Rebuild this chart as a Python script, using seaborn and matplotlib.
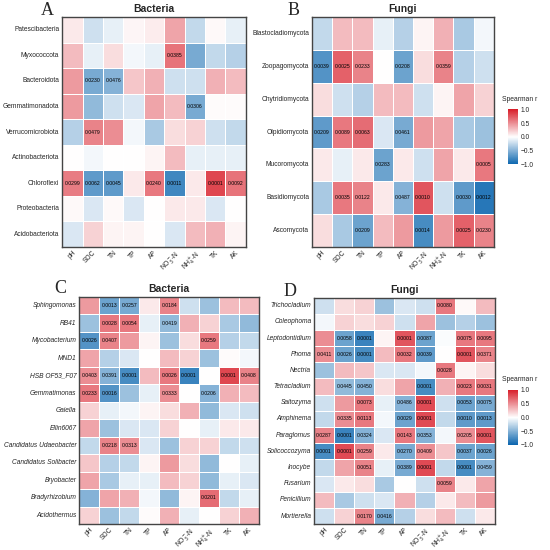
import numpy as np
import pandas as pd
import matplotlib
matplotlib.use('Agg')
import matplotlib.pyplot as plt
import seaborn as sns
from matplotlib.colors import LinearSegmentedColormap

sns.set_theme(style='white')
plt.rcParams['font.family'] = ['Liberation Sans', 'DejaVu Sans']

# 环境因子
factors = ['pH', 'SOC', 'TN', 'TP', 'AP', r'NO$_3^{-}$-N', r'NH$_4^{+}$-N', 'TK', 'AK']

# A 细菌门
rows_a = ['Patescibacteria', 'Myxococcota', 'Bacteroidota', 'Gemmatimonadota',
          'Verrucomicrobiota', 'Actinobacteriota', 'Chloroflexi', 'Proteobacteria',
          'Acidobacteriota']
r_a = [[0.10, -0.20, -0.10, 0.04, 0.08, 0.40, -0.25, 0.03, -0.10],
       [0.30, -0.10, 0.15, -0.05, -0.10, 0.62, -0.55, -0.25, -0.30],
       [0.45, -0.55, -0.50, 0.25, 0.35, -0.20, -0.20, 0.35, 0.30],
       [0.45, -0.45, -0.20, -0.15, 0.40, 0.30, -0.55, 0.02, 0.02],
       [-0.30, 0.55, 0.50, -0.05, -0.35, 0.15, 0.20, -0.20, -0.25],
       [0.00, -0.05, 0.00, 0.00, 0.05, 0.30, -0.10, -0.10, -0.10],
       [0.58, -0.65, -0.65, 0.10, 0.60, -0.78, 0.10, 0.82, 0.62],
       [0.03, -0.15, 0.03, -0.15, 0.00, 0.10, 0.10, -0.15, 0.00],
       [-0.15, 0.20, 0.05, 0.05, 0.00, -0.15, 0.30, 0.35, 0.05]]
p_a = [['', '', '', '', '', '', '', '', ''],
       ['', '', '', '', '', '0.0385', '', '', ''],
       ['', '0.0230', '0.0476', '', '', '', '', '', ''],
       ['', '', '', '', '', '', '0.0306', '', ''],
       ['', '0.0479', '', '', '', '', '', '', ''],
       ['', '', '', '', '', '', '', '', ''],
       ['0.0299', '0.0062', '0.0045', '', '0.0240', '0.0011', '', '0.0001', '0.0092'],
       ['', '', '', '', '', '', '', '', ''],
       ['', '', '', '', '', '', '', '', '']]

# B 真菌门
rows_b = ['Blastocladiomycota', 'Zoopagomycota', 'Chytridiomycota', 'Olpidiomycota',
          'Mucoromycota', 'Basidiomycota', 'Ascomycota']
r_b = [[-0.25, 0.30, 0.30, -0.10, -0.30, 0.05, 0.35, -0.35, -0.05],
       [-0.70, 0.70, 0.55, 0.00, -0.60, 0.15, 0.55, -0.30, -0.20],
       [0.15, -0.20, -0.30, 0.30, 0.30, -0.20, 0.05, 0.40, 0.20],
       [-0.65, 0.60, 0.65, -0.15, -0.55, 0.45, 0.40, -0.35, -0.40],
       [0.10, -0.10, 0.10, -0.60, 0.10, -0.20, 0.40, 0.10, 0.60],
       [-0.35, 0.60, 0.55, 0.10, -0.50, 0.75, -0.20, -0.65, -0.88],
       [0.15, -0.35, -0.60, 0.30, 0.45, -0.75, 0.45, 0.70, 0.55]]
p_b = [['', '', '', '', '', '', '', '', ''],
       ['0.0039', '0.0025', '0.0233', '', '0.0208', '', '0.0359', '', ''],
       ['', '', '', '', '', '', '', '', ''],
       ['0.0209', '0.0089', '0.0063', '', '0.0461', '', '', '', ''],
       ['', '', '', '0.0283', '', '', '', '', '0.0005'],
       ['', '0.0035', '0.0122', '', '0.0487', '0.0010', '', '0.0030', '0.0012'],
       ['', '', '0.0209', '', '', '0.0014', '', '0.0025', '0.0230']]

# C 细菌属
rows_c = ['Sphingomonas', 'RB41', 'Mycobacterium', 'MND1', 'HSB OF53_F07',
          'Gemmatimonas', 'Gaiella', 'Ellin6067', 'Candidatus Udaeobacter',
          'Candidatus Solibacter', 'Bryobacter', 'Bradyrhizobium', 'Acidothermus']
r_c = [[0.45, -0.60, -0.55, 0.10, 0.55, -0.20, -0.40, 0.30, 0.30],
       [-0.40, 0.60, 0.60, -0.10, -0.45, 0.35, 0.20, -0.35, -0.45],
       [-0.70, 0.55, 0.45, 0.05, -0.40, 0.15, 0.60, -0.30, -0.25],
       [0.40, -0.30, -0.15, 0.00, 0.30, 0.20, -0.40, 0.02, -0.05],
       [0.50, -0.50, -0.75, 0.30, 0.60, -0.80, 0.00, 0.82, 0.55],
       [0.60, -0.70, -0.40, -0.10, 0.50, 0.00, -0.50, 0.35, 0.30],
       [0.20, -0.10, -0.05, 0.05, 0.15, 0.35, -0.45, -0.15, -0.20],
       [0.40, -0.40, -0.15, -0.15, 0.20, 0.00, -0.10, 0.10, 0.10],
       [-0.25, 0.55, 0.50, -0.15, -0.40, 0.20, 0.20, -0.25, -0.20],
       [0.25, -0.30, -0.25, 0.05, 0.45, 0.15, -0.45, 0.00, -0.10],
       [0.40, -0.35, -0.10, -0.10, 0.30, 0.20, -0.45, -0.10, -0.15],
       [-0.50, 0.40, 0.35, -0.05, -0.45, 0.05, 0.65, -0.25, -0.10],
       [0.20, -0.40, -0.25, 0.02, 0.35, -0.10, 0.00, 0.20, 0.35]]
p_c = [['', '0.0013', '0.0257', '', '0.0184', '', '', '', ''],
       ['', '0.0028', '0.0054', '', '0.0419', '', '', '', ''],
       ['0.0026', '0.0407', '', '', '', '', '0.0259', '', ''],
       ['', '', '', '', '', '', '', '', ''],
       ['0.0403', '0.0391', '0.0001', '', '0.0026', '0.0001', '', '0.0001', '0.0408'],
       ['0.0233', '0.0016', '', '', '0.0333', '', '0.0206', '', ''],
       ['', '', '', '', '', '', '', '', ''],
       ['', '', '', '', '', '', '', '', ''],
       ['', '0.0218', '0.0313', '', '', '', '', '', ''],
       ['', '', '', '', '', '', '', '', ''],
       ['', '', '', '', '', '', '', '', ''],
       ['', '', '', '', '', '', '0.0201', '', ''],
       ['', '', '', '', '', '', '', '', '']]

# D 真菌属
rows_d = ['Trichocladium', 'Coleophoma', 'Leptodontidium', 'Phoma', 'Nectria',
          'Tetracladium', 'Saitozyma', 'Amphinema', 'Paraglomus', 'Solicoccozyma',
          'Inocybe', 'Fusarium', 'Penicillium', 'Mortierella']
r_d = [[-0.20, 0.15, 0.20, -0.40, -0.15, -0.20, 0.60, 0.03, 0.30],
       [-0.05, 0.20, 0.15, 0.20, -0.20, 0.40, -0.40, -0.30, -0.40],
       [0.50, -0.60, -0.80, 0.05, 0.75, -0.60, -0.02, 0.60, 0.60],
       [0.50, -0.60, -0.75, 0.30, 0.60, -0.65, 0.00, 0.75, 0.55],
       [-0.40, 0.30, 0.25, -0.15, -0.15, -0.05, 0.60, 0.05, 0.15],
       [0.30, -0.45, -0.50, 0.15, 0.40, -0.75, 0.35, 0.60, 0.60],
       [-0.20, 0.45, 0.60, -0.10, -0.50, 0.80, -0.20, -0.60, -0.55],
       [-0.25, 0.50, 0.60, -0.05, -0.60, 0.80, -0.25, -0.65, -0.65],
       [0.55, -0.80, -0.50, -0.15, 0.60, -0.50, -0.05, 0.50, 0.75],
       [-0.75, 0.80, 0.55, 0.10, -0.55, 0.50, 0.25, -0.60, -0.60],
       [-0.25, 0.40, 0.55, -0.10, -0.55, 0.80, -0.25, -0.75, -0.50],
       [-0.15, 0.10, 0.15, -0.35, 0.00, -0.20, 0.55, 0.10, 0.40],
       [0.30, -0.35, -0.20, -0.15, 0.35, -0.30, 0.10, 0.30, 0.45],
       [-0.20, 0.20, 0.55, -0.55, -0.30, 0.15, 0.30, -0.20, 0.10]]
p_d = [['', '', '', '', '', '', '0.0080', '', ''],
       ['', '', '', '', '', '', '', '', ''],
       ['', '0.0058', '0.0001', '', '0.0001', '0.0087', '', '0.0075', '0.0095'],
       ['0.0411', '0.0026', '0.0001', '', '0.0032', '0.0039', '', '0.0001', '0.0371'],
       ['', '', '', '', '', '', '0.0028', '', ''],
       ['', '0.0445', '0.0450', '', '', '0.0001', '', '0.0023', '0.0031'],
       ['', '', '0.0073', '', '0.0486', '0.0001', '', '0.0053', '0.0075'],
       ['', '0.0335', '0.0113', '', '0.0029', '0.0001', '', '0.0010', '0.0013'],
       ['0.0287', '0.0001', '0.0324', '', '0.0143', '0.0353', '', '0.0205', '0.0001'],
       ['0.0001', '0.0001', '0.0259', '', '0.0270', '0.0409', '', '0.0037', '0.0026'],
       ['', '', '0.0051', '', '0.0389', '0.0001', '', '0.0001', '0.0459'],
       ['', '', '', '', '', '', '0.0059', '', ''],
       ['', '', '', '', '', '', '', '', ''],
       ['', '', '0.0170', '0.0416', '', '', '', '', '']]

cmap = LinearSegmentedColormap.from_list('rb', ['#0a65ae', '#ffffff', '#d81e2a'])

W = 550.0
fig = plt.figure(figsize=(5.5, 5.5), dpi=100)

# 字母位置(像素, 从左上角算)
panels = [
    ('A', 'Bacteria', rows_a, r_a, p_a, [0.113, 0.551, 0.334, 0.418], False, None, (47, 15)),
    ('B', 'Fungi', rows_b, r_b, p_b, [0.567, 0.551, 0.331, 0.418], False, [0.924, 0.701, 0.017, 0.100], (294, 15)),
    ('C', 'Bacteria', rows_c, r_c, p_c, [0.144, 0.047, 0.327, 0.413], True, None, (60, 293)),
    ('D', 'Fungi', rows_d, r_d, p_d, [0.571, 0.047, 0.329, 0.412], True, [0.924, 0.191, 0.017, 0.100], (290, 296)),
]

for letter, title, rows, r, p, pos, italic, cpos, lxy in panels:
    ax = fig.add_axes(pos)
    df = pd.DataFrame(r, index=rows, columns=factors)
    if cpos is not None:
        cax = fig.add_axes(cpos)
        kw = dict(cbar=True, cbar_ax=cax)
    else:
        kw = dict(cbar=False)
    sns.heatmap(df, ax=ax, cmap=cmap, vmin=-1, vmax=1, annot=np.array(p), fmt='',
                annot_kws={'fontsize': 3.7, 'color': 'black'},
                xticklabels=True, yticklabels=True,
                linewidths=0.6, linecolor='white', **kw)
    for s in ax.spines.values():
        s.set_visible(True)
        s.set_color('#444444')
        s.set_linewidth(1.0)
    ax.tick_params(axis='y', length=0, pad=2)
    ax.tick_params(axis='x', length=0, pad=1.5)
    ax.set_xticklabels(factors, rotation=45, ha='right', rotation_mode='anchor', fontsize=4.8)
    ax.set_yticklabels(rows, rotation=0, fontsize=4.8, style='italic' if italic else 'normal')
    ax.set_title(title, fontsize=7.5, fontweight='bold', pad=3.5)
    fig.text(lxy[0] / W, 1 - lxy[1] / W, letter, fontsize=13,
             family='Liberation Serif', ha='center', va='baseline')
    if cpos is not None:
        fig.text(502 / W, cpos[1] + cpos[3] + 0.012, 'Spearman r', fontsize=4.9,
                 ha='left', va='bottom')
        cax.tick_params(labelsize=4.8, length=0, pad=2)
        cax.set_yticks([-1.0, -0.5, 0.0, 0.5, 1.0])
        cax.set_yticklabels(['\u22121.0', '\u22120.5', '0.0', '0.5', '1.0'])

fig.savefig('out.png', dpi=100)
